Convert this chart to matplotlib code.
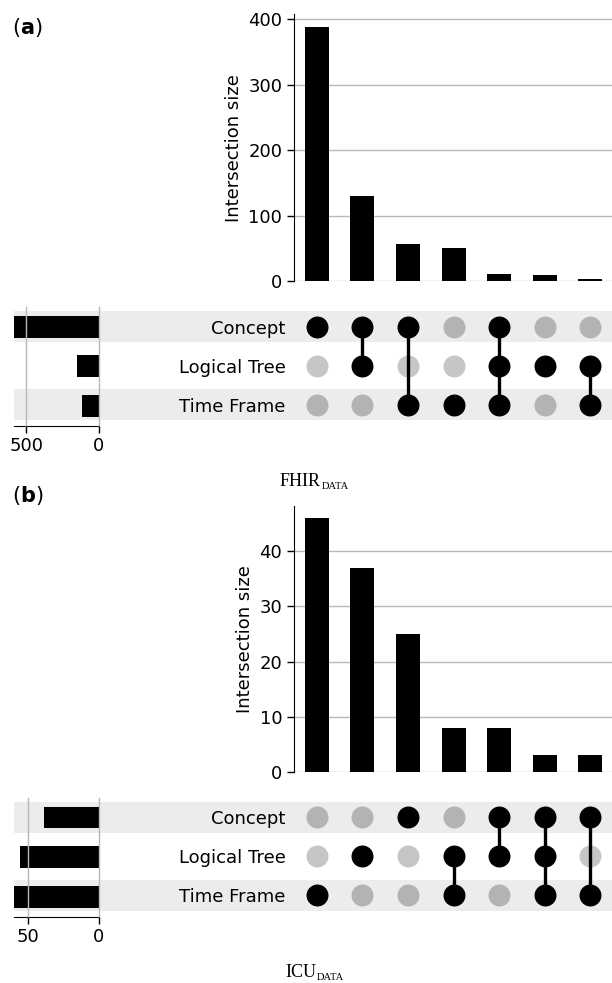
import matplotlib
matplotlib.use('Agg')
import matplotlib.pyplot as plt
from matplotlib.patches import Rectangle
from matplotlib.transforms import blended_transform_factory

plt.rcParams['font.family'] = ['DejaVu Sans']

set_names = ['Concept', 'Logical Tree', 'Time Frame']

# FHIR data: intersection sizes and which sets take part
fhir_sizes = [388, 130, 56, 50, 10, 9, 3]
fhir_members = [
    ['Concept'],
    ['Concept', 'Logical Tree'],
    ['Concept', 'Time Frame'],
    ['Time Frame'],
    ['Concept', 'Logical Tree', 'Time Frame'],
    ['Logical Tree'],
    ['Logical Tree', 'Time Frame'],
]
fhir_totals = [584, 152, 119]

# ICU data
icu_sizes = [46, 37, 25, 8, 8, 3, 3]
icu_members = [
    ['Time Frame'],
    ['Logical Tree'],
    ['Concept'],
    ['Logical Tree', 'Time Frame'],
    ['Concept', 'Logical Tree'],
    ['Concept', 'Logical Tree', 'Time Frame'],
    ['Concept', 'Time Frame'],
]
icu_totals = [39, 56, 60]

W, H = 612, 983
fig = plt.figure(figsize=(W / 100, H / 100), dpi=100)

SHADE = '#ececec'
GRID = '#b8b8b8'
FS = 13


def rect(x0, y0, x1, y1):
    # pixel box (top-left origin) -> figure fraction
    return [x0 / W, 1 - y1 / H, (x1 - x0) / W, (y1 - y0) / H]


def draw_panel(bar_box, mat_box, tot_box, sizes, members, totals, yticks, tot_ticks):
    n = len(sizes)
    ax_bar = fig.add_axes(rect(*bar_box))
    ax_mat = fig.add_axes(rect(*mat_box))
    ax_tot = fig.add_axes(rect(*tot_box))

    # intersection bars
    ax_bar.bar(range(n), sizes, width=0.53, color='black', zorder=3)
    ax_bar.set_xlim(-0.5, n - 0.5)
    ax_bar.set_ylim(0, max(sizes) * 1.05)
    ax_bar.set_yticks(yticks)
    ax_bar.tick_params(axis='y', labelsize=FS, length=5, width=1)
    ax_bar.set_xticks([])
    ax_bar.yaxis.grid(True, color=GRID, linewidth=1)
    ax_bar.set_axisbelow(True)
    for s in ['top', 'right', 'bottom']:
        ax_bar.spines[s].set_visible(False)
    ax_bar.set_ylabel('Intersection size', fontsize=FS)
    ax_bar.patch.set_alpha(0)

    # matrix
    ax_mat.set_xlim(-0.5, n - 0.5)
    ax_mat.set_ylim(len(set_names) - 0.5, -0.5)
    shade_tr = blended_transform_factory(fig.transFigure, ax_mat.transData)
    for r in range(len(set_names)):
        if r % 2 == 0:
            ax_mat.add_patch(Rectangle((14 / W, r - 0.4), 1 - 14 / W, 0.8,
                                       transform=shade_tr, color=SHADE,
                                       clip_on=False, zorder=0, lw=0))
    for c, mem in enumerate(members):
        rows = [set_names.index(m) for m in mem]
        for r in range(len(set_names)):
            if r not in rows:
                col = '#b3b3b3' if r % 2 == 0 else '#c6c6c6'
                ax_mat.scatter([c], [r], s=250, color=col, lw=0, zorder=2)
        if len(rows) > 1:
            ax_mat.plot([c, c], [min(rows), max(rows)], color='black', lw=2.4, zorder=3)
        ax_mat.scatter([c] * len(rows), rows, s=250, color='black', lw=0, zorder=4)
    ax_mat.set_xticks([])
    ax_mat.set_yticks(range(len(set_names)))
    ax_mat.set_yticklabels(set_names, fontsize=FS)
    ax_mat.tick_params(axis='y', length=0, pad=6)
    for s in ax_mat.spines.values():
        s.set_visible(False)
    ax_mat.patch.set_alpha(0)

    # set totals
    ax_tot.barh(range(len(set_names)), totals, height=0.55, color='black', zorder=2)
    ax_tot.set_ylim(len(set_names) - 0.5, -0.5)
    ax_tot.set_xlim(max(totals), 0)
    ax_tot.set_xticks(tot_ticks)
    ax_tot.tick_params(axis='x', labelsize=FS, length=5, width=1)
    ax_tot.set_yticks([])
    ax_tot.xaxis.grid(True, color=GRID, linewidth=1, zorder=3)
    ax_tot.set_axisbelow(False)
    for gl in ax_tot.get_xgridlines():
        gl.set_clip_on(False)
    for s in ['top', 'right', 'left']:
        ax_tot.spines[s].set_visible(False)
    ax_tot.patch.set_alpha(0)


draw_panel((294, 14.2, 613.2, 281), (294, 307, 613.2, 424.2), (14, 307, 99, 425.5),
           fhir_sizes, fhir_members, fhir_totals, [0, 100, 200, 300, 400], [500, 0])
draw_panel((294, 505.6, 613.2, 771.7), (294, 797.7, 613.2, 914.9), (14, 797.7, 99, 916.5),
           icu_sizes, icu_members, icu_totals, [0, 10, 20, 30, 40], [50, 0])

# panel letters
for lab, y in [('a', 16), ('b', 484)]:
    fig.text(12 / W, 1 - y / H, '(' + r'$\mathbf{' + lab + '}$' + ')',
             fontsize=15, va='top', ha='left')

# captions
for main, x, y in [('FHIR', 280, 486), ('ICU', 285, 977)]:
    t = fig.text(x / W, 1 - y / H, main, fontsize=13, family='Liberation Serif',
                 ha='left', va='baseline')
    fig.text(0, 0, '')
    plt.annotate('DATA', xy=(1, 0), xycoords=t, xytext=(0.5, 0.8),
                 textcoords='offset points', fontsize=7.6, family='Liberation Serif',
                 ha='left', va='baseline')

fig.savefig('out.png', dpi=100)
